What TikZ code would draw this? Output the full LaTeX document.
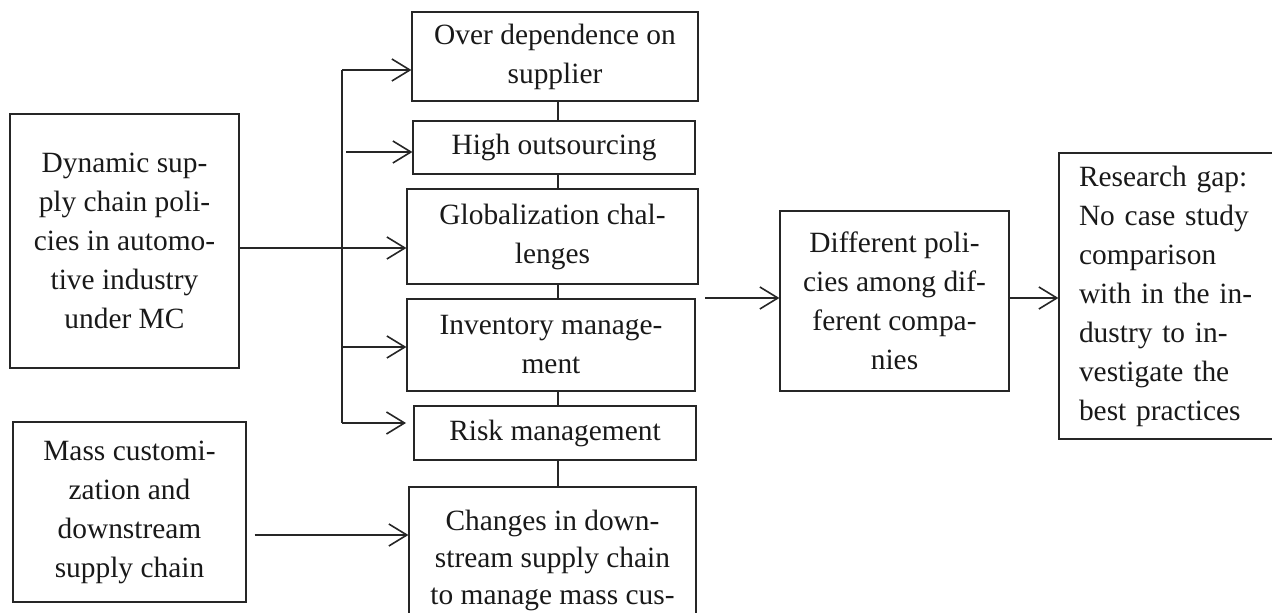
\documentclass[tikz,border=0pt]{standalone}
\usepackage{fontspec}
\setmainfont{Liberation Serif}
\usetikzlibrary{arrows.meta}
\begin{document}
\begin{tikzpicture}[x=0.5pt,y=-0.5pt,
  box/.style={draw=black!85, line width=0.6pt, inner sep=0pt, align=center,
    font=\fontsize{14.7}{19.5}\selectfont, text=black!90},
  link/.style={line width=0.8pt, draw=black!85},
  arr/.style={link, -{Straight Barb[length=9pt,width=11pt,line width=0.8pt]}}]
\useasboundingbox (0,0) rectangle (1272,613);
\clip (0,0) rectangle (1272,613);

% left-hand sources
\node[box, minimum width=114.5pt, minimum height=127pt] (dyn) at (124.5,241)
  {Dynamic sup-\\ply chain poli-\\cies in automo-\\tive industry\\under MC};
\node[box, minimum width=116.5pt, minimum height=90pt] (mass) at (129.5,512)
  {Mass customi-\\zation and\\downstream\\supply chain};

% middle column of issues
\node[box, minimum width=143pt, minimum height=44.5pt] (b1) at (555,56.5)
  {Over dependence on\\supplier};
\node[box, minimum width=141pt, minimum height=26.5pt] (b2) at (554,147.5)
  {High outsourcing};
\node[box, minimum width=145.5pt, minimum height=47.5pt] (b3) at (552.5,236.5)
  {Globalization chal-\\lenges};
\node[box, minimum width=144pt, minimum height=46pt] (b4) at (551,345)
  {Inventory manage-\\ment};
\node[box, minimum width=141pt, minimum height=27pt] (b5) at (555,433)
  {Risk management};
\node[box, minimum width=143.5pt, minimum height=73pt,
  font=\fontsize{14.7}{18.5}\selectfont] (b6) at (552.5,560)
  {Changes in down-\\stream supply chain\\to manage mass cus-};

% right-hand results
\node[box, minimum width=114.5pt, minimum height=90pt] (diff) at (894.5,301)
  {Different poli-\\cies among dif-\\ferent compa-\\nies};
\node[box, align=left, inner xsep=10pt, text width=90.5pt, minimum height=143pt] (gap) at (1169.5,296)
  {Research gap:\\No case study\\comparison\\with in the in-\\dustry to in-\\vestigate the\\best practices};

% distribution bus
\coordinate (bt) at (342,70);
\coordinate (bb) at (342,423);
\coordinate (vx) at (558,0);
\draw[link] (bt) -- (bb);
\draw[link] (dyn.east |- 0,248) -- (342,248);
\draw[arr] (bt) -- (bt -| b1.west);
\draw[arr] (346,152) -- (b2.west |- 0,152);
\draw[arr] (342,248) -- (b3.west |- 0,248);
\draw[arr] (342,347) -- (b4.west |- 0,347);
\draw[arr] (bb) -- (406,423);

% chain of issue boxes
\draw[link] (b1.south -| vx) -- (b2.north -| vx);
\draw[link] (b2.south -| vx) -- (b3.north -| vx);
\draw[link] (b3.south -| vx) -- (b4.north -| vx);
\draw[link] (b4.south -| vx) -- (b5.north -| vx);
\draw[link] (b5.south -| vx) -- (b6.north -| vx);

% mass customization feed
\draw[arr, shorten <=4pt] (mass.east |- 0,535) -- (b6.west |- 0,535);

% flow to the results
\coordinate (src) at (705,298);
\draw[arr] (src) -- (diff.west |- src);
\draw[arr] (diff.east |- src) -- (gap.west |- src);
\end{tikzpicture}
\end{document}
